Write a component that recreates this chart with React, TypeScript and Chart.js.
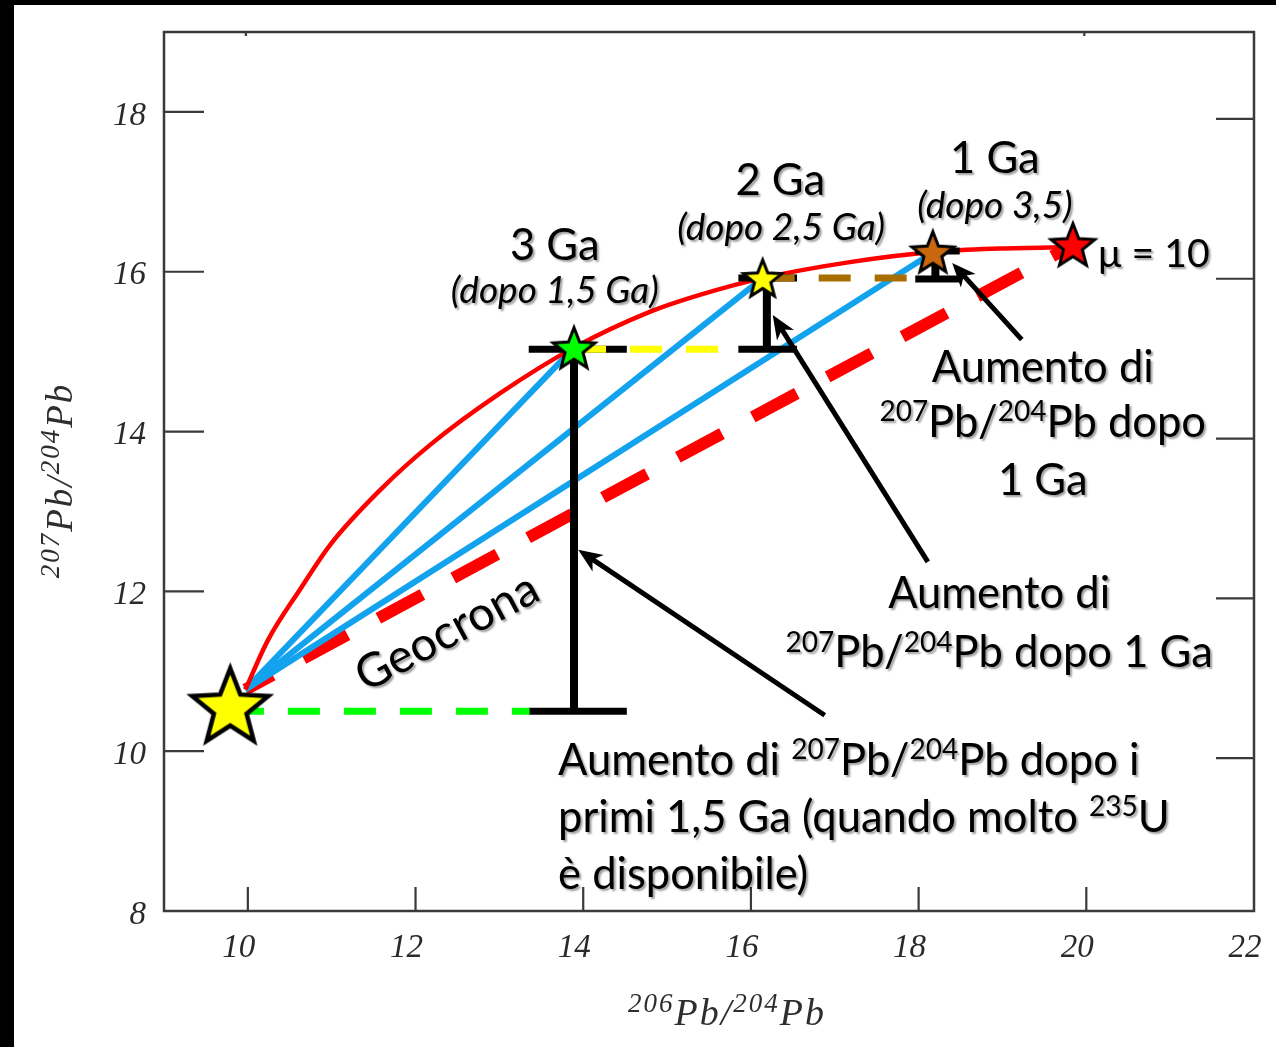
import React, { useEffect, useRef } from 'react';
import { Chart, registerables } from 'chart.js';

Chart.register(...registerables);

// ---------- axes ----------
const X_MIN = 9;
const X_MAX = 22;
const Y_MIN = 8;
const Y_MAX = 19;
const X_TICKS = [10, 12, 14, 16, 18, 20, 22];
const Y_TICKS = [8, 10, 12, 14, 16, 18];
const TOP_TICKS = [10, 20];

// ---------- growth curve (mu = 10) ----------
const CURVE_X = [9.97, 10.24, 10.62, 10.98, 11.58, 12.17, 13.01, 13.89, 14.8, 15.39, 16.14, 17.18, 18.2, 18.97, 19.84];
const CURVE_Y = [10.77, 11.39, 12.02, 12.58, 13.27, 13.83, 14.48, 15.05, 15.5, 15.71, 15.92, 16.12, 16.25, 16.29, 16.31];

// ---------- primordial lead and blue evolution lines ----------
const ORIGIN_X = 9.97;
const ORIGIN_Y = 10.77;
const BLUE_END_X = [13.89, 16.14, 18.17];
const BLUE_END_Y = [15.05, 15.92, 16.24];

// ---------- geochron ----------
const GEOCHRON_X = [9.97, 19.71];
const GEOCHRON_Y = [10.77, 16.26];

// ---------- dashed levels ----------
const LEVEL_Y = [10.5, 15.03, 15.92];
const LEVEL_X0 = [9.81, 13.89, 16.14];
const LEVEL_X1 = [13.36, 15.85, 17.96];
const LEVEL_COLORS = ['#00FF00', '#FFFF00', '#A86E00'];

// ---------- increments (black bars) ----------
const BAR_X = [13.89, 16.19, 18.2];
const BAR_LOW = [10.5, 15.03, 15.91];
const BAR_HIGH = [15.03, 15.92, 16.26];
const CAP_LEFT = [13.35, 15.85, 17.96];
const CAP_RIGHT = [14.52, 16.55, 18.49];

// ---------- stars ----------
const STAR_X = [9.79, 13.89, 16.14, 18.17, 19.84];
const STAR_Y = [10.58, 15.05, 15.92, 16.25, 16.34];
const STAR_COLORS = ['#FFFF00', '#00FF00', '#FFFF00', '#C8670E', '#FF0000'];
const STAR_RADII = [40, 22, 20, 22, 23];

// ---------- arrows ----------
const ARROW_TAIL_X = [16.88, 18.11, 19.23];
const ARROW_TAIL_Y = [10.45, 12.37, 15.15];
const ARROW_HEAD_X = [13.94, 16.26, 18.4];
const ARROW_HEAD_Y = [12.52, 15.46, 16.11];

// ---------- annotation texts (anchored in data coordinates) ----------
type Note = { s: string; x: number; y: number; italic?: boolean; align?: 'left' | 'center'; rot?: number; k?: number };
const NOTES: Note[] = [
  { s: '3 Ga', x: 13.66, y: 16.15 },
  { s: '(dopo 1,5 Ga)', x: 13.66, y: 15.61, italic: true },
  { s: '2 Ga', x: 16.35, y: 16.96 },
  { s: '(dopo 2,5 Ga)', x: 16.36, y: 16.4, italic: true },
  { s: '1 Ga', x: 18.91, y: 17.24 },
  { s: '(dopo 3,5)', x: 18.91, y: 16.67, italic: true },
  { s: 'μ = 10', x: 20.14, y: 16.06, align: 'left', k: 0.9 },
  { s: 'Aumento di', x: 19.48, y: 14.62 },
  { s: '^{207}Pb/^{204}Pb dopo', x: 19.48, y: 13.93 },
  { s: '1 Ga', x: 19.48, y: 13.21 },
  { s: 'Aumento di', x: 18.96, y: 11.79 },
  { s: '^{207}Pb/^{204}Pb dopo 1 Ga', x: 18.96, y: 11.05 },
  { s: 'Aumento di ^{207}Pb/^{204}Pb dopo i', x: 13.7, y: 9.7, align: 'left' },
  { s: 'primi 1,5 Ga (quando molto ^{235}U', x: 13.7, y: 8.99, align: 'left' },
  { s: 'è disponibile)', x: 13.7, y: 8.28, align: 'left' },
  { s: 'Geocrona', x: 12.46, y: 11.32, rot: -28, k: 1.08 },
];
const X_TITLE = '^{206}Pb/^{204}Pb';
const Y_TITLE = '^{207}Pb/^{204}Pb';

const SANS = 'Lato, "DejaVu Sans", sans-serif';
const SERIF = '"Liberation Serif", "DejaVu Serif", serif';

function parseRuns(s: string) {
  const out: { t: string; sup: boolean }[] = [];
  const re = /\^\{([^}]*)\}/g;
  let last = 0;
  let m: RegExpExecArray | null;
  while ((m = re.exec(s))) {
    if (m.index > last) out.push({ t: s.slice(last, m.index), sup: false });
    out.push({ t: m[1], sup: true });
    last = m.index + m[0].length;
  }
  if (last < s.length) out.push({ t: s.slice(last), sup: false });
  return out;
}

function drawRuns(
  ctx: CanvasRenderingContext2D,
  s: string,
  x: number,
  y: number,
  align: 'left' | 'center',
  size: number,
  italic: boolean,
  family: string,
  supRatio = 0.64,
  supRaise = 0.36
) {
  const runs = parseRuns(s);
  const fBase = `${italic ? 'italic ' : ''}${size}px ${family}`;
  const fSup = `${italic ? 'italic ' : ''}${Math.round(size * supRatio)}px ${family}`;
  let w = 0;
  const widths: number[] = [];
  for (const r of runs) {
    ctx.font = r.sup ? fSup : fBase;
    const mw = ctx.measureText(r.t).width;
    widths.push(mw);
    w += mw;
  }
  let cx = align === 'center' ? x - w / 2 : x;
  ctx.textAlign = 'left';
  ctx.textBaseline = 'alphabetic';
  runs.forEach((r, i) => {
    ctx.font = r.sup ? fSup : fBase;
    ctx.fillText(r.t, cx, r.sup ? y - size * supRaise : y);
    cx += widths[i];
  });
}

function makeStar(R: number, fill: string): HTMLCanvasElement {
  const lw = R > 30 ? 4.5 : 3;
  const size = Math.ceil(2 * R + lw * 2 + 4);
  const c = document.createElement('canvas');
  c.width = size;
  c.height = size;
  const ctx = c.getContext('2d')!;
  const cx = size / 2;
  const cy = size / 2 + R * 0.09;
  const r = R * 0.43;
  ctx.beginPath();
  for (let k = 0; k < 10; k++) {
    const rad = k % 2 === 0 ? R : r;
    const a = -Math.PI / 2 + (k * Math.PI) / 5;
    const px = cx + rad * Math.cos(a);
    const py = cy + rad * Math.sin(a);
    if (k === 0) ctx.moveTo(px, py);
    else ctx.lineTo(px, py);
  }
  ctx.closePath();
  ctx.fillStyle = fill;
  ctx.fill();
  ctx.lineJoin = 'miter';
  ctx.lineWidth = lw;
  ctx.strokeStyle = '#000';
  ctx.stroke();
  return c;
}

const overlayPlugin = {
  id: 'overlay',
  beforeDraw(chart: any) {
    const { ctx, width, height } = chart;
    ctx.save();
    ctx.fillStyle = '#ffffff';
    ctx.fillRect(0, 0, width, height);
    ctx.fillStyle = '#000000';
    ctx.fillRect(0, 0, width, 5);
    ctx.fillRect(0, 0, 14, height);
    ctx.restore();
  },
  beforeDatasetsDraw(chart: any) {
    const { ctx, chartArea: a, scales } = chart;
    const xs = scales.x;
    const ys = scales.y;
    ctx.save();
    ctx.strokeStyle = '#3a3a3a';
    ctx.lineWidth = 2.5;
    ctx.strokeRect(a.left, a.top, a.right - a.left, a.bottom - a.top);
    ctx.lineWidth = 2.2;
    ctx.beginPath();
    for (const v of Y_TICKS) {
      if (v === Y_MIN) continue;
      const py = ys.getPixelForValue(v);
      ctx.moveTo(a.left, py);
      ctx.lineTo(a.left + 40, py);
      const pr = py + 7;
      ctx.moveTo(a.right - 38, pr);
      ctx.lineTo(a.right, pr);
    }
    for (const v of X_TICKS) {
      if (v === X_MAX) continue;
      const px = xs.getPixelForValue(v);
      ctx.moveTo(px, a.bottom);
      ctx.lineTo(px, a.bottom - 24);
    }
    for (const v of TOP_TICKS) {
      const px = xs.getPixelForValue(v) - 2;
      ctx.moveTo(px, a.top);
      ctx.lineTo(px, a.top + 4);
    }
    ctx.stroke();
    ctx.restore();
  },
  afterDatasetsDraw(chart: any) {
    const { ctx, chartArea: a, scales } = chart;
    const xs = scales.x;
    const ys = scales.y;
    ctx.save();
    // arrows
    ctx.strokeStyle = '#000';
    ctx.fillStyle = '#000';
    for (let i = 0; i < ARROW_TAIL_X.length; i++) {
      const tx = xs.getPixelForValue(ARROW_TAIL_X[i]);
      const ty = ys.getPixelForValue(ARROW_TAIL_Y[i]);
      const hx = xs.getPixelForValue(ARROW_HEAD_X[i]);
      const hy = ys.getPixelForValue(ARROW_HEAD_Y[i]);
      const ang = Math.atan2(hy - ty, hx - tx);
      const dx = Math.cos(ang);
      const dy = Math.sin(ang);
      const L = 24;
      const W = 10;
      ctx.lineWidth = 5;
      ctx.beginPath();
      ctx.moveTo(tx, ty);
      ctx.lineTo(hx - dx * L * 0.7, hy - dy * L * 0.7);
      ctx.stroke();
      ctx.beginPath();
      ctx.moveTo(hx, hy);
      ctx.lineTo(hx - dx * L - dy * W, hy - dy * L + dx * W);
      ctx.lineTo(hx - dx * L * 0.72, hy - dy * L * 0.72);
      ctx.lineTo(hx - dx * L + dy * W, hy - dy * L - dx * W);
      ctx.closePath();
      ctx.fill();
    }
    ctx.restore();

    // texts
    ctx.save();
    ctx.font = `40px ${SANS}`;
    const base = (40 * 222) / ctx.measureText('Aumento di').width;
    ctx.fillStyle = '#000';
    ctx.shadowColor = 'rgba(0,0,0,0.38)';
    ctx.shadowOffsetX = 2;
    ctx.shadowOffsetY = 2;
    ctx.shadowBlur = 2;
    for (const n of NOTES) {
      const px = xs.getPixelForValue(n.x);
      const py = ys.getPixelForValue(n.y);
      const size = base * (n.k || 1) * (n.italic ? 0.85 : 1);
      if (n.rot) {
        ctx.save();
        ctx.translate(px, py);
        ctx.rotate((n.rot * Math.PI) / 180);
        drawRuns(ctx, n.s, 0, 0, 'center', size, false, SANS);
        ctx.restore();
      } else {
        drawRuns(ctx, n.s, px, py, n.align || 'center', size, !!n.italic, SANS);
      }
    }
    ctx.restore();

    // axis titles
    ctx.save();
    ctx.fillStyle = '#2e2e2e';
    (ctx as any).letterSpacing = '2px';
    drawRuns(ctx, X_TITLE, (a.left + a.right) / 2 + 18, a.bottom + 114, 'center', 38, true, SERIF, 0.72, 0.34);
    ctx.translate(a.left - 92, (a.top + a.bottom) / 2 + 9);
    ctx.rotate(-Math.PI / 2);
    drawRuns(ctx, Y_TITLE, 0, 0, 'center', 37, true, SERIF, 0.72, 0.34);
    ctx.restore();
  },
};

export default function App() {
  const ref = useRef<HTMLCanvasElement | null>(null);

  useEffect(() => {
    document.documentElement.style.overflow = 'hidden';
    document.body.style.overflow = 'hidden';
    document.body.style.margin = '0';
    document.body.style.background = '#fff';
    if (!ref.current) return;
    const pts = (xs: number[], ys: number[]) => xs.map((x, i) => ({ x, y: ys[i] }));
    const lineDs = (data: any[], color: string, width: number, order: number, extra: any = {}) => ({
      data,
      showLine: true,
      borderColor: color,
      backgroundColor: color,
      borderWidth: width,
      pointRadius: 0,
      pointHoverRadius: 0,
      fill: false,
      order,
      ...extra,
    });

    const datasets: any[] = [];
    datasets.push(
      lineDs(pts(GEOCHRON_X, GEOCHRON_Y), '#FF0000', 12, 10, { borderDash: [50, 35], borderDashOffset: 19 })
    );
    BLUE_END_X.forEach((x, i) => {
      datasets.push(lineDs([{ x: ORIGIN_X, y: ORIGIN_Y }, { x, y: BLUE_END_Y[i] }], '#12A2EE', 6, 9));
    });
    datasets.push(lineDs(pts(CURVE_X, CURVE_Y), '#FF0000', 4.5, 8, { cubicInterpolationMode: 'monotone' }));
    BAR_X.forEach((x, i) => {
      datasets.push(lineDs([{ x, y: BAR_LOW[i] }, { x, y: BAR_HIGH[i] }], '#000', 8, 7));
      datasets.push(lineDs([{ x: CAP_LEFT[i], y: BAR_LOW[i] }, { x: CAP_RIGHT[i], y: BAR_LOW[i] }], '#000', 7, 7));
      datasets.push(lineDs([{ x: CAP_LEFT[i], y: BAR_HIGH[i] }, { x: CAP_RIGHT[i], y: BAR_HIGH[i] }], '#000', 7, 7));
    });
    LEVEL_Y.forEach((y, i) => {
      datasets.push(
        lineDs([{ x: LEVEL_X0[i], y }, { x: LEVEL_X1[i], y }], LEVEL_COLORS[i], 7, 6, { borderDash: [32, 24] })
      );
    });
    const starImgs = STAR_COLORS.map((c, i) => makeStar(STAR_RADII[i], c));
    datasets.push({
      data: pts(STAR_X, STAR_Y),
      showLine: false,
      pointStyle: starImgs,
      pointRadius: 10,
      pointHoverRadius: 10,
      order: 0,
    });

    const tickFont = { family: '"Liberation Serif", "DejaVu Serif", serif', style: 'italic' as const, size: 33 };
    const noPad = (s: any) => {
      s.paddingLeft = 0;
      s.paddingRight = 0;
      s.paddingTop = 0;
      s.paddingBottom = 0;
    };

    const chart = new Chart(ref.current, {
      type: 'scatter',
      data: { datasets },
      options: {
        responsive: false,
        animation: false,
        events: [],
        devicePixelRatio: 1,
        layout: { padding: { left: 14, top: 32, right: 22, bottom: 0 } },
        plugins: { legend: { display: false }, tooltip: { enabled: false } },
        scales: {
          x: {
            type: 'linear',
            min: X_MIN,
            max: X_MAX,
            grid: { display: false, drawTicks: false },
            border: { display: false },
            afterBuildTicks: (s: any) => {
              s.ticks = X_TICKS.map((v) => ({ value: v }));
            },
            afterFit: (s: any) => {
              s.height = 136;
              noPad(s);
            },
            ticks: {
              font: tickFont,
              color: '#2a2a2a',
              padding: 18,
              labelOffset: -9,
              autoSkip: false,
              maxRotation: 0,
              minRotation: 0,
            },
          },
          y: {
            type: 'linear',
            min: Y_MIN,
            max: Y_MAX,
            grid: { display: false, drawTicks: false },
            border: { display: false },
            afterBuildTicks: (s: any) => {
              s.ticks = Y_TICKS.map((v) => ({ value: v }));
            },
            afterFit: (s: any) => {
              s.width = 150;
              noPad(s);
            },
            ticks: {
              font: tickFont,
              color: '#2a2a2a',
              padding: 18,
              labelOffset: 4,
              autoSkip: false,
            },
          },
        },
      },
      plugins: [overlayPlugin],
    });
    return () => chart.destroy();
  }, []);

  return (
    <div
      style={{
        position: 'fixed',
        left: 0,
        top: 0,
        width: 1276,
        height: 1047,
        background: '#fff',
        overflow: 'hidden',
      }}
    >
      <canvas ref={ref} width={1276} height={1047} style={{ display: 'block', width: 1276, height: 1047 }} />
    </div>
  );
}
